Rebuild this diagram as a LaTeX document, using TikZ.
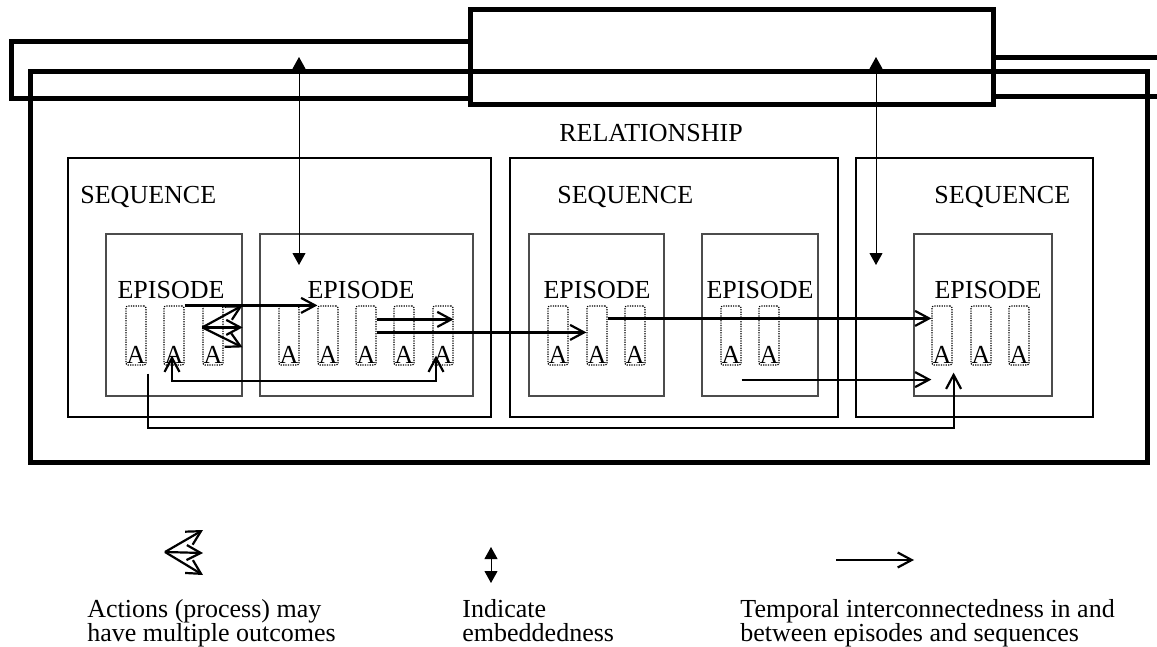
\documentclass[tikz,border=0pt]{standalone}
\usepackage{fontspec}
\setmainfont{Liberation Serif}
\usetikzlibrary{arrows.meta,calc,fit}

\begin{document}
\begin{tikzpicture}[x=0.5pt,y=-0.5pt,
  band/.style={line width=2.5pt},
  bandbox/.style={draw,line width=2.5pt,inner sep=0pt},
  seqbox/.style={draw,line width=1.1pt,inner sep=0pt},
  epibox/.style={draw=black!70,line width=0.6pt,inner sep=0pt},
  actbox/.style={draw=black,line width=0.6pt,dash pattern=on 0.6pt off 0.6pt,
    rounded corners=1pt,minimum width=10pt,minimum height=29.5pt,inner sep=0pt},
  txt/.style={font=\fontsize{13}{15}\selectfont,inner sep=0pt},
  legtxt/.style={font={\fontsize{13}{12}\selectfont\lineskiplimit=-20pt},
    inner sep=0pt,align=left,anchor=north west},
  conn/.style={line width=1.1pt,-{Straight Barb[length=7pt,width=7.5pt]}},
  bothconn/.style={line width=1.1pt,
    {Straight Barb[length=7pt,width=7.5pt]}-{Straight Barb[length=7pt,width=7.5pt]}},
  embed/.style={line width=0.5pt,
    {Triangle[length=6pt,width=6.5pt]}-{Triangle[length=6pt,width=6.5pt]}},
]
\useasboundingbox (0,0) rectangle (1157,647);

% --- the relationship and the band running round it
\node[bandbox,fit={(30,72) (1147,462)}] (rel) {};
\node[bandbox,fit={(470,10) (993,105)}] (mid) {};
\draw[band] (mid.west |- 0,42) -- (11,42) -- (11,99) -- (mid.west |- 0,99);
\draw[band] (1165,58) -- (mid.east |- 0,58);
\draw[band] (mid.east |- 0,97) -- (1165,97);
\node[txt] (reltxt) at (651,133) {RELATIONSHIP};

% --- sequences
\node[seqbox,fit={(68,158) (491,417)}] (s1) {};
\node[seqbox,fit={(510,158) (838,417)}] (s2) {};
\node[seqbox,fit={(856,158) (1093,417)}] (s3) {};
\node[txt,anchor=base west] (s1t) at (80,204) {SEQUENCE};
\node[txt,anchor=base west] (s2t) at (557,204) {SEQUENCE};
\node[txt,anchor=base west] (s3t) at (934,204) {SEQUENCE};

% --- episodes
\node[epibox,fit={(106,234) (242,396)}] (e1) {};
\node[epibox,fit={(260,234) (473,396)}] (e2) {};
\node[epibox,fit={(529,234) (664,396)}] (e3) {};
\node[epibox,fit={(702,234) (818,396)}] (e4) {};
\node[epibox,fit={(914,234) (1052,396)}] (e5) {};
\foreach \n/\x in {1/171,2/361,3/597,4/760,5/988}
  \node[txt,anchor=base] (e\n t) at (\x,298) {EPISODE};

% --- actions
\foreach \n/\x in {11/136,12/174,13/213,21/289,22/328,23/366,24/404,25/443,
                   31/558,32/597,33/635,41/731,42/769,51/942,52/981,53/1019}{
  \node[actbox] (a\n) at (\x,335.5) {};
  \node[txt,anchor=base] (t\n) at (\x,363) {A};
}

% --- embeddedness
\coordinate (u1) at (299,57);
\coordinate (d1) at (299,265);
\coordinate (u2) at (876,57);
\coordinate (d2) at (876,265);
\draw[embed] (u1) -- (d1);
\draw[embed] (u2) -- (d2);

% --- one action, several outcomes
\coordinate (f0) at ($(a13.north west)+(0,22)$);
\draw[conn] (f0) -- (e1.east |- a12.north);
\draw[conn] (f0) -- (e1.east |- f0);
\draw[conn] (f0) -- ($(e1.east |- f0)+(0,20)$);

% --- temporal links
\draw[conn] (a12.north east) -- (a22.north west);
\draw[conn] ($(a23.north east)+(0,14)$) -- ($(a25.north east)+(0,14)$);
\draw[conn] ($(a23.north east)+(0,27)$) -- ($(a32.north west)+(0,27)$);
\draw[bothconn] ($(a12.south)+(-2,-10)$) -- ++(0,25) -| ($(a25.south)+(-7,-10)$);
\draw[conn] ($(a32.north east)+(0,13)$) -- ($(a51.north west)+(0,13)$);
\draw[conn] ($(a41.south east)+(0,14)$) -- ($(a51.south west)+(0,14)$);
\draw[conn] ($(a11.south east)+(1,8)$) -- ++(0,54) -| ($(a51.south east)+(1,7)$);

% --- legend
\coordinate (lf0) at (165,552);
\coordinate (lf1) at (203,530);
\coordinate (lf2) at (203,553);
\coordinate (lf3) at (203,575);
\draw[conn] (lf0) -- (lf1);
\draw[conn] (lf0) -- (lf2);
\draw[conn] (lf0) -- (lf3);
\coordinate (le1) at (491,547);
\coordinate (le2) at (491,583);
\draw[embed] (le1) -- (le2);
\coordinate (lt1) at (836,560);
\coordinate (lt2) at (914,560);
\draw[conn] (lt1) -- (lt2);

\node[legtxt] (l1) at (87,599.5) {Actions (process) may\\have multiple outcomes};
\node[legtxt] (l2) at (462,599.5) {Indicate\\embeddedness};
\node[legtxt] (l3) at (740,599.5) {Temporal interconnectedness in and\\between episodes and sequences};
\end{tikzpicture}
\end{document}
